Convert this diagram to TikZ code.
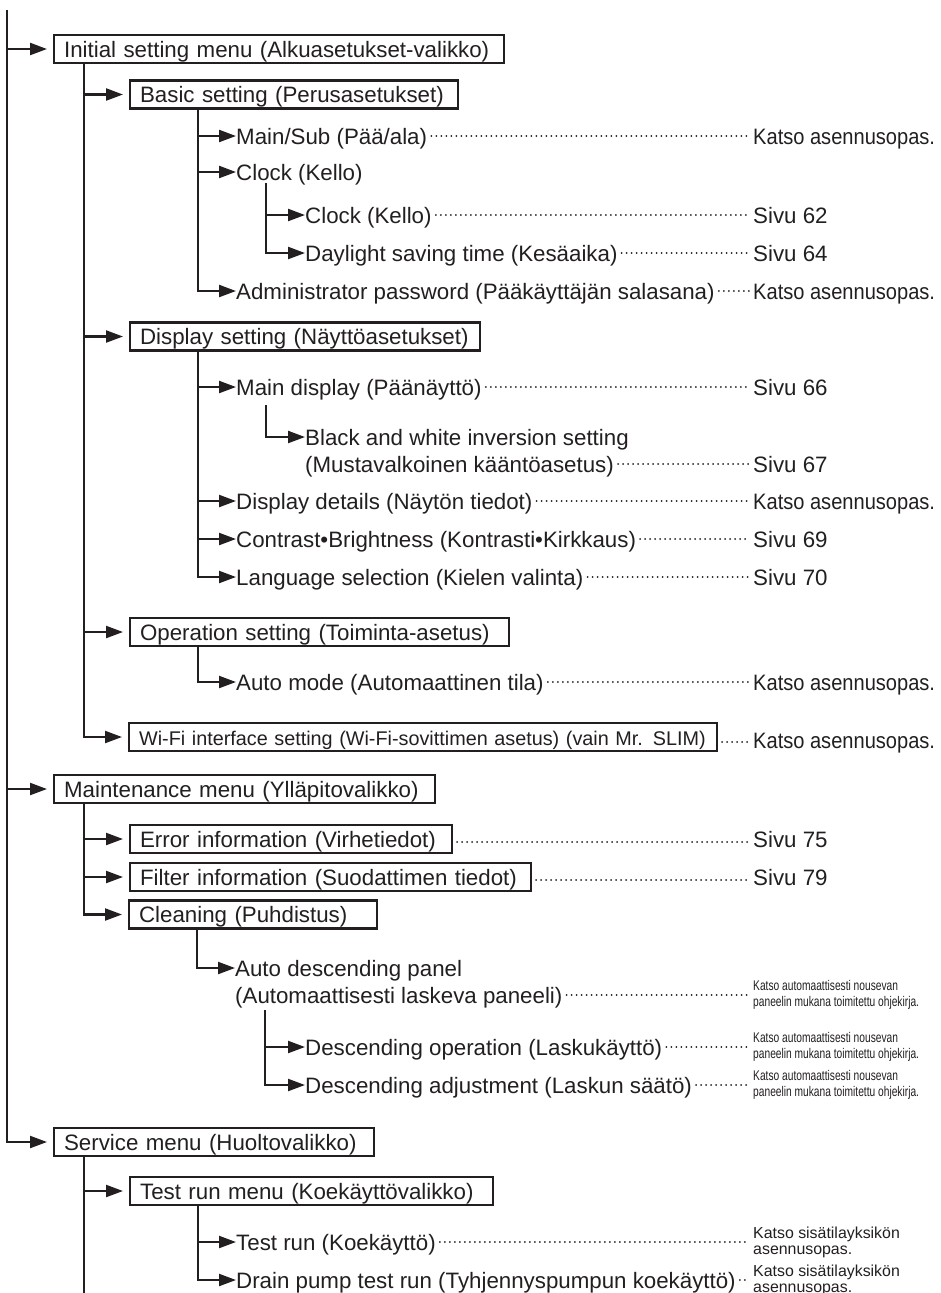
\documentclass[tikz,border=0pt]{standalone}
\usepackage{fontspec}
\setmainfont{Liberation Sans}
\newfontfamily\katsofont[FakeStretch=0.9]{Liberation Sans}
\newfontfamily\narrowfont[FakeStretch=0.73]{Liberation Sans}
\usetikzlibrary{arrows.meta}
\definecolor{ink}{RGB}{35,31,32}
\newcommand\mainsize{\fontsize{22.3pt}{26pt}\selectfont}
\newcommand\wifisize{\fontsize{19.8pt}{24pt}\selectfont}
\newcommand\katsosize{\katsofont\fontsize{22.3pt}{26pt}\selectfont}
\newcommand\smallsize{\fontsize{15.9pt}{16pt}\selectfont}
\newcommand\narrowsize{\narrowfont\fontsize{14pt}{16pt}\selectfont}
\tikzset{
  ln/.style={line width=2.2pt, draw=ink},
  arr/.style={ln, -{Triangle[length=17pt,width=12pt]}},
  barr/.style={arr, shorten >=6pt},
  box/.style={draw=ink, line width=2.2pt, anchor=west, minimum height=28pt,
    inner xsep=10pt, inner ysep=0pt, text height=16pt, text depth=0pt,
    align=left, font=\mainsize},
  item/.style={anchor=west, inner sep=0pt, text height=16pt, text depth=0pt, font=\mainsize},
  kref/.style={item, font=\katsosize},
  sref/.style={anchor=west, inner sep=0pt, align=left, font=\smallsize},
  nref/.style={anchor=west, inner sep=0pt, align=left, font=\narrowsize},
  dots/.style={draw=ink, line width=2pt, dash pattern=on 0pt off 5pt, line cap=round,
    shorten <=4pt, shorten >=4pt},
}
\begin{document}
\begin{tikzpicture}[x=1pt,y=-1pt,color=ink]
\fill[white] (0,0) rectangle (940,1293);
\useasboundingbox (0,0) rectangle (940,1293);

% ---------- boxes ----------
\node[box, text width=430pt] (init)    at (53,49)    {Initial setting menu (Alkuasetukset-valikko)};
\node[box, text width=308pt] (basic)   at (129,94.5) {Basic setting (Perusasetukset)};
\node[box, text width=330pt] (display) at (129,336.5){Display setting (Näyttöasetukset)};
\node[box, text width=359pt] (oper)    at (129,632)  {Operation setting (Toiminta-asetus)};
\node[box, text width=568pt, font=\wifisize] (wifi) at (128,737) {Wi-Fi interface setting (Wi-Fi-sovittimen asetus) (vain Mr. SLIM)};
\node[box, text width=361pt] (maint)   at (53,789)   {Maintenance menu (Ylläpitovalikko)};
\node[box, text width=302pt] (err)     at (129,839)  {Error information (Virhetiedot)};
\node[box, text width=381pt] (filt)    at (129,877)  {Filter information (Suodattimen tiedot)};
\node[box, text width=228pt] (clean)   at (128,914.5){Cleaning (Puhdistus)};
\node[box, text width=300pt] (serv)    at (53,1142)  {Service menu (Huoltovalikko)};
\node[box, text width=343pt] (trm)     at (129,1191) {Test run menu (Koekäyttövalikko)};

% ---------- items ----------
\node[item] (mainsub)  at (236,136)  {Main/Sub (Pää/ala)};
\node[item] (clock)    at (236,172)  {Clock (Kello)};
\node[item] (clock2)   at (305,215)  {Clock (Kello)};
\node[item] (dst)      at (305,253)  {Daylight saving time (Kesäaika)};
\node[item] (admin)    at (236,291)  {Administrator password (Pääkäyttäjän salasana)};
\node[item] (maindisp) at (236,387)  {Main display (Päänäyttö)};
\node[item] (bw1)      at (305,437)  {Black and white inversion setting};
\node[item] (bw2)      at (305,464)  {(Mustavalkoinen kääntöasetus)};
\node[item] (dispdet)  at (236,501)  {Display details (Näytön tiedot)};
\node[item] (contrast) at (236,539)  {Contrast•Brightness (Kontrasti•Kirkkaus)};
\node[item] (lang)     at (236,577)  {Language selection (Kielen valinta)};
\node[item] (automode) at (236,682)  {Auto mode (Automaattinen tila)};
\node[item] (autodesc1) at (235,968) {Auto descending panel};
\node[item] (autodesc2) at (235,995) {(Automaattisesti laskeva paneeli)};
\node[item] (descop)   at (305,1047) {Descending operation (Laskukäyttö)};
\node[item] (descadj)  at (305,1085) {Descending adjustment (Laskun säätö)};
\node[item] (testrun)  at (236,1242) {Test run (Koekäyttö)};
\node[item] (drain)    at (236,1280) {Drain pump test run (Tyhjennyspumpun koekäyttö)};

% ---------- references ----------
\node[kref] (r1)  at (753,136)  {Katso asennusopas.};
\node[item] (r2)  at (753,215)  {Sivu 62};
\node[item] (r3)  at (753,253)  {Sivu 64};
\node[kref] (r4)  at (753,291)  {Katso asennusopas.};
\node[item] (r5)  at (753,387)  {Sivu 66};
\node[item] (r6)  at (753,464)  {Sivu 67};
\node[kref] (r7)  at (753,501)  {Katso asennusopas.};
\node[item] (r8)  at (753,539)  {Sivu 69};
\node[item] (r9)  at (753,577)  {Sivu 70};
\node[kref] (r10) at (753,682)  {Katso asennusopas.};
\node[kref] (r11) at (753,740)  {Katso asennusopas.};
\node[item] (r12) at (753,839)  {Sivu 75};
\node[item] (r13) at (753,877)  {Sivu 79};
\node[nref] (r14) at (753,995)  {Katso automaattisesti nousevan\\paneelin mukana toimitettu ohjekirja.};
\node[nref] (r15) at (753,1047) {Katso automaattisesti nousevan\\paneelin mukana toimitettu ohjekirja.};
\node[nref] (r16) at (753,1085) {Katso automaattisesti nousevan\\paneelin mukana toimitettu ohjekirja.};
\node[sref] (r17) at (753,1242) {Katso sisätilayksikön\\asennusopas.};
\node[sref] (r18) at (753,1280) {Katso sisätilayksikön\\asennusopas.};

% ---------- tree lines ----------
\coordinate (top) at (7,10);
\draw[barr] (top) |- (serv.west);
\draw[barr] (top |- init.west) -- (init.west);
\draw[barr] (top |- maint.west) -- (maint.west);

\coordinate (i2) at (84,63);
\draw[barr] (i2) |- (wifi.west);
\draw[barr] (i2 |- basic.west) -- (basic.west);
\draw[barr] (i2 |- display.west) -- (display.west);
\draw[barr] (i2 |- oper.west) -- (oper.west);

\coordinate (b3) at (198,108.5);
\draw[arr] (b3) |- (admin.west);
\draw[arr] (b3 |- mainsub.west) -- (mainsub.west);
\draw[arr] (b3 |- clock.west) -- (clock.west);
\coordinate (c4) at (266,183);
\draw[arr] (c4) |- (dst.west);
\draw[arr] (c4 |- clock2.west) -- (clock2.west);

\coordinate (d3) at (198,350.5);
\draw[arr] (d3) |- (lang.west);
\draw[arr] (d3 |- maindisp.west) -- (maindisp.west);
\draw[arr] (d3 |- dispdet.west) -- (dispdet.west);
\draw[arr] (d3 |- contrast.west) -- (contrast.west);
\coordinate (md4) at (266,405);
\draw[arr] (md4) |- (bw1.west);

\coordinate (o3) at (198,646);
\draw[arr] (o3) |- (automode.west);

\coordinate (m2) at (84,803);
\draw[barr] (m2) |- (clean.west);
\draw[barr] (m2 |- err.west) -- (err.west);
\draw[barr] (m2 |- filt.west) -- (filt.west);

\coordinate (cl3) at (197,928.5);
\draw[arr] (cl3) |- (autodesc1.west);
\coordinate (ad4) at (265,1010);
\draw[arr] (ad4) |- (descadj.west);
\draw[arr] (ad4 |- descop.west) -- (descop.west);

\coordinate (s2) at (84,1156);
\coordinate (s2end) at (84,1300);
\draw[ln] (s2) -- (s2end);
\draw[barr] (s2 |- trm.west) -- (trm.west);

\coordinate (t3) at (198,1205);
\draw[arr] (t3) |- (drain.west);
\draw[arr] (t3 |- testrun.west) -- (testrun.west);

% ---------- dotted leaders ----------
\foreach \a/\b in {mainsub/r1, clock2/r2, dst/r3, admin/r4, maindisp/r5, bw2/r6,
  dispdet/r7, contrast/r8, lang/r9, automode/r10, autodesc2/r14, descop/r15,
  descadj/r16, testrun/r17, drain/r18}
  \draw[dots] (\a.east) -- (\a.east -| \b.west);
\draw[dots] ([yshift=-5pt]wifi.east) -- ([yshift=-5pt]wifi.east -| r11.west);
\draw[dots] ([yshift=-3pt]err.east) -- ([yshift=-3pt]err.east -| r12.west);
\draw[dots] ([yshift=-3pt]filt.east) -- ([yshift=-3pt]filt.east -| r13.west);
\end{tikzpicture}
\end{document}
